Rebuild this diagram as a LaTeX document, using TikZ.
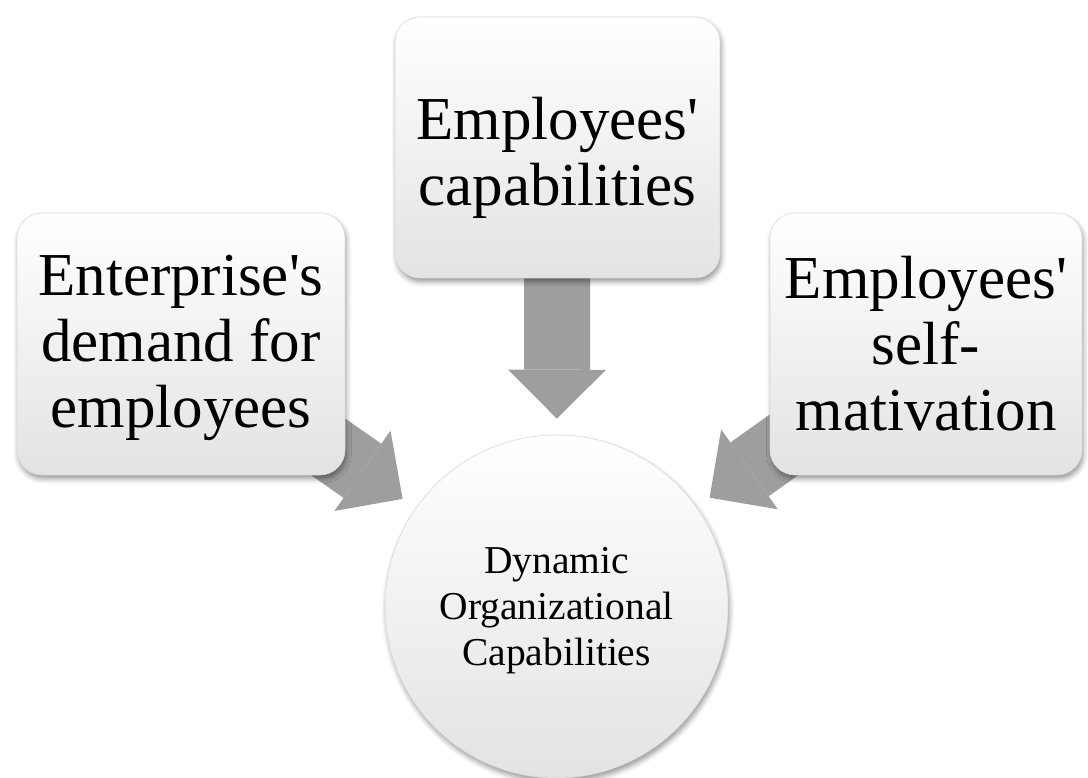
\documentclass[tikz,border=0pt]{standalone}
\usepackage{fontspec}
\setmainfont{Liberation Serif}
\usetikzlibrary{arrows.meta, shadows.blur, backgrounds}

\begin{document}
\begin{tikzpicture}[x=1pt, y=1pt,
  soft/.style = {top color=white, bottom color=black!11, draw=black!14, line width=0.6pt,
    blur shadow={shadow xshift=1.5pt, shadow yshift=-4pt, shadow blur radius=5pt, shadow opacity=40}},
  box/.style = {soft, rectangle, rounded corners=25pt, inner sep=0pt, align=center,
    font=\fontsize{61}{66}\selectfont},
  goal/.style = {soft, circle, inner sep=0pt, align=center, minimum size=343pt,
    font=\fontsize{39.5}{46}\selectfont},
  bigarrow/.style = {line width=66pt, draw=black!38, shorten >=16pt,
    -{Triangle[width=98pt, length=49pt, line width=0pt]}}]
\useasboundingbox (0,0) rectangle (1088,778);

\node[box, minimum width=325pt, minimum height=261pt, text height=130pt] (cap) at (557.5,630.5) {Employees\textquotesingle\\capabilities};
\node[box, minimum width=328pt, minimum height=262pt, text height=180pt] (ent) at (181,434) {Enterprise\textquotesingle s\\demand for\\employees};
\node[box, minimum width=312pt, minimum height=262pt] (mot) at (926,434) {Employees\textquotesingle\\self-\\mativation};
\node[goal, text height=127pt] (dyn) at (556.5,171.5) {Dynamic\\Organizational\\Capabilities};

\begin{scope}[on background layer]
\draw[bigarrow] (cap.center) -- (dyn);
\draw[bigarrow] (ent.center) -- (dyn);
\draw[bigarrow] (mot.center) -- (dyn);
\end{scope}
\end{tikzpicture}
\end{document}
